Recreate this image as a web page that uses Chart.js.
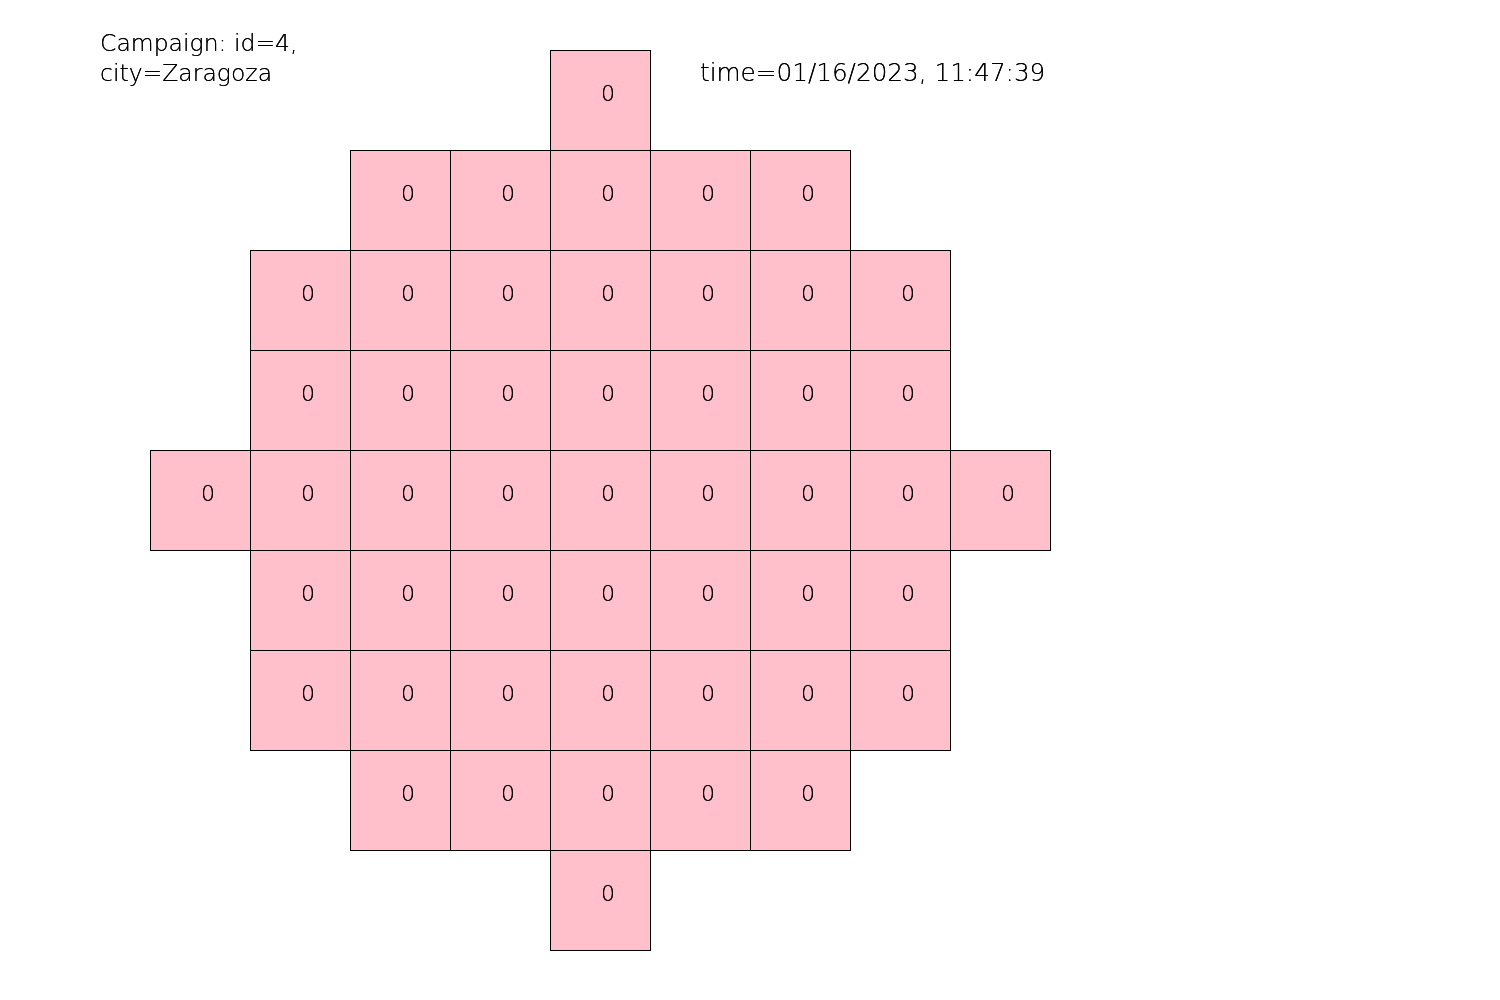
<!DOCTYPE html>
<html>
<head>
<meta charset="utf-8">
<script src="https://cdn.jsdelivr.net/npm/chart.js@4"></script>
<style>
html,body{margin:0;padding:0;background:#fff;}
#wrap{width:1500px;height:1000px;position:relative;}
</style>
</head>
<body>
<div id="wrap"><canvas id="c" width="1500" height="1000"></canvas></div>
<script>
// ---- data ----
const titleLines = ['Campaign: id=4,', 'city=Zaragoza'];
const timeLabel = 'time=01/16/2023, 11:47:39';
const columns = [0, 1, 2, 3, 4, 5, 6, 7, 8];
const rows = ['r0', 'r1', 'r2', 'r3', 'r4', 'r5', 'r6', 'r7', 'r8'];
// cell values per row (null = no cell)
const row0 = [null, null, null, null, 0, null, null, null, null];
const row1 = [null, null, 0, 0, 0, 0, 0, null, null];
const row2 = [null, 0, 0, 0, 0, 0, 0, 0, null];
const row3 = [null, 0, 0, 0, 0, 0, 0, 0, null];
const row4 = [0, 0, 0, 0, 0, 0, 0, 0, 0];
const row5 = [null, 0, 0, 0, 0, 0, 0, 0, null];
const row6 = [null, 0, 0, 0, 0, 0, 0, 0, null];
const row7 = [null, null, 0, 0, 0, 0, 0, null, null];
const row8 = [null, null, null, null, 0, null, null, null, null];
const grid = [row0, row1, row2, row3, row4, row5, row6, row7, row8];

const FONT = '"DejaVu Sans", sans-serif';

const datasets = columns.map(c => ({
  label: 'col' + c,
  data: rows.map((_, r) => grid[r][c] === null ? null : [c, c + 1]),
  cellValues: rows.map((_, r) => grid[r][c]),
  backgroundColor: '#FFC0CB',
  borderColor: '#000000',
  borderSkipped: false,
  inflateAmount: 0.5,
  borderWidth: 1,
  barPercentage: 1,
  categoryPercentage: 1,
  grouped: false,
  clip: false
}));

const shiftPlugin = {
  id: 'shiftPlugin',
  beforeDatasetsDraw(chart) { chart.ctx.save(); chart.ctx.translate(0.5, 0.5); },
  afterDatasetsDraw(chart) { chart.ctx.restore(); }
};

function darkText(ctx, s, x, y) {
  ctx.fillText(s, x, y);
  ctx.fillText(s, x, y);
}

const textPlugin = {
  id: 'textPlugin',
  afterDraw(chart) {
    const ctx = chart.ctx;
    ctx.save();
    ctx.fillStyle = '#000';
    ctx.font = '200 22px ' + FONT;
    ctx.textAlign = 'center';
    ctx.textBaseline = 'alphabetic';
    chart.data.datasets.forEach((ds, di) => {
      const meta = chart.getDatasetMeta(di);
      meta.data.forEach((el, i) => {
        const v = ds.cellValues[i];
        if (v === null || v === undefined) return;
        const cx = (el.x + el.base) / 2;
        darkText(ctx, String(v), cx + 8, el.y + 1);
      });
    });
    ctx.textAlign = 'left';
    ctx.font = '200 23.5px ' + FONT;
    darkText(ctx, titleLines[0], 100, 51);
    darkText(ctx, titleLines[1], 100, 81);
    ctx.font = '200 24.7px ' + FONT;
    darkText(ctx, timeLabel, 700, 81);
    ctx.restore();
  }
};

new Chart(document.getElementById('c'), {
  type: 'bar',
  data: { labels: rows, datasets },
  options: {
    indexAxis: 'y',
    responsive: false,
    animation: false,
    layout: { padding: { left: 150, right: 450, top: 50, bottom: 50 } },
    scales: {
      x: { type: 'linear', min: 0, max: 9, display: false },
      y: { type: 'category', display: false, offset: true }
    },
    plugins: { legend: { display: false }, tooltip: { enabled: false }, title: { display: false } }
  },
  plugins: [shiftPlugin, textPlugin]
});
</script>
</body>
</html>
